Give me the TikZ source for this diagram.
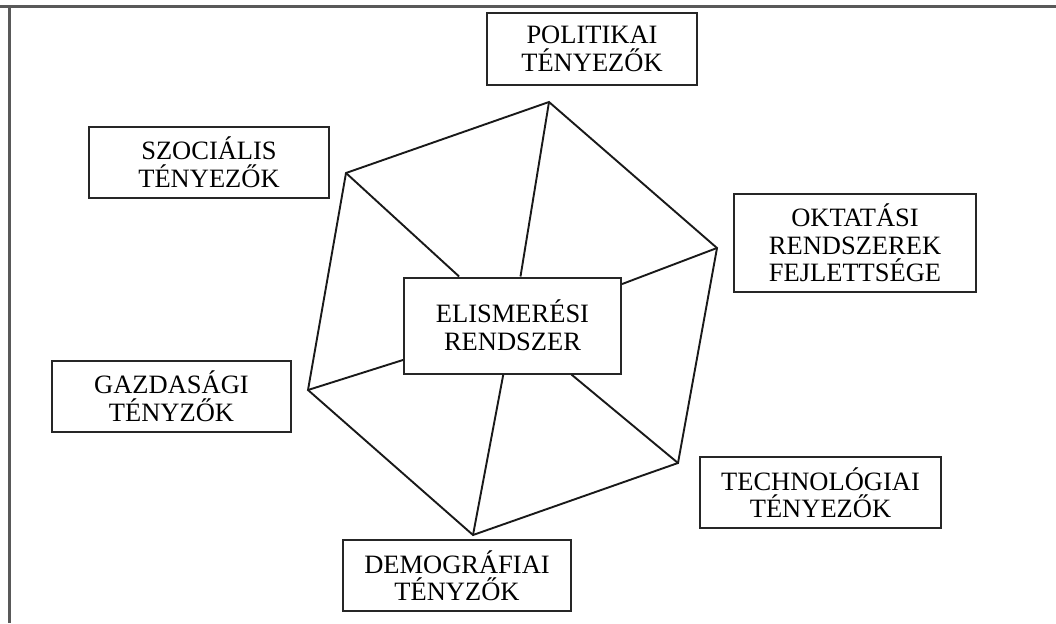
\documentclass[tikz,border=0pt]{standalone}
\usepackage{fontspec}
\setmainfont{Liberation Serif}
\begin{document}
\begin{tikzpicture}[x=1pt,y=-1pt,
  box/.style={draw=black!85, line width=2pt, fill=white, align=center, inner sep=0pt,
    font=\fontsize{26.5}{27.5}\selectfont},
  edge/.style={draw=black!90, line width=1.9pt},
  frame/.style={draw=black!65, line width=3pt}]
\useasboundingbox (0,0) rectangle (1056,623);
% outer frame (top and left only)
\coordinate (ftl) at (9,7);
\coordinate (ftr) at (1056,7);
\coordinate (fbl) at (9,623);
\coordinate (ftl0) at (0,7);
\draw[frame] (ftl0) -- (ftr);
\draw[frame] (ftl) -- (fbl);
% boxes
\node[box, minimum width=210pt, minimum height=72pt] (pol) at (592,49) {POLITIKAI\\TÉNYEZŐK};
\node[box, minimum width=240pt, minimum height=71pt] (szoc) at (209,162.5) {SZOCIÁLIS\\TÉNYEZŐK};
\node[box, minimum width=242pt, minimum height=98pt] (okt) at (855,243) {OKTATÁSI\\RENDSZEREK\\FEJLETTSÉGE};
\node[box, minimum width=217pt, minimum height=96pt] (eli) at (512.5,325.5) {ELISMERÉSI\\RENDSZER};
\node[box, minimum width=239pt, minimum height=71pt] (gazd) at (171.5,396.5) {GAZDASÁGI\\TÉNYZŐK};
\node[box, minimum width=241pt, minimum height=71pt] (tech) at (820.5,492.5) {TECHNOLÓGIAI\\TÉNYEZŐK};
\node[box, minimum width=228pt, minimum height=71pt] (demo) at (457,575.5) {DEMOGRÁFIAI\\TÉNYZŐK};
% hexagon vertices
\coordinate (vT) at (549,102);
\coordinate (vUL) at (346,173);
\coordinate (vR) at (717,248);
\coordinate (vL) at (308,390);
\coordinate (vLR) at (678,463);
\coordinate (vB) at (473,535);
\draw[edge, line join=miter] (vT) -- (vR) -- (vLR) -- (vB) -- (vL) -- (vUL) -- cycle;
% spokes
\foreach \v in {vT,vR,vLR,vB,vL,vUL}
  \draw[edge] (\v) -- (eli);
\end{tikzpicture}
\end{document}
